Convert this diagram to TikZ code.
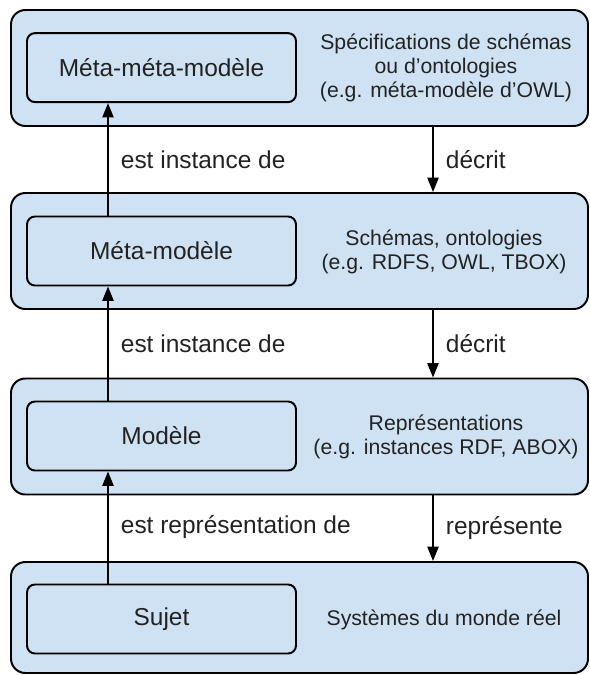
\documentclass[tikz,border=0pt]{standalone}
\usepackage{fontspec}
\setmainfont{Liberation Sans}
\usetikzlibrary{arrows.meta,positioning}
\definecolor{bleu}{HTML}{CFE2F3}
\definecolor{encre}{HTML}{222222}

\begin{document}
\begin{tikzpicture}[>={Triangle[length=0.36cm,width=0.28cm]},text=encre,
  niv/.style={draw,line width=1.4pt,fill=bleu,rounded corners=0.36cm,minimum width=14.425cm,minimum height=2.9cm},
  bte/.style={draw,line width=1.4pt,rounded corners=0.2cm,minimum width=6.725cm,minimum height=1.725cm,font=\fontsize{17.4}{20}\selectfont},
  txt/.style={align=center,font=\fontsize{15.1}{17.1}\selectfont},
  lbl/.style={right=0.3cm,inner sep=0pt,font=\fontsize{17.4}{20}\selectfont}]
  \useasboundingbox (0,0) rectangle (14.75,-16.875);
  % niveaux
  \node[niv] (n1) at (7.4875,-1.7) {};
  \node[niv] (n2) at (7.4875,-6.275) {};
  \node[niv] (n3) at (7.4875,-10.9125) {};
  \node[niv,minimum height=2.775cm] (n4) at (7.4875,-15.4375) {};
  % boites
  \node[bte] (mmm) at (4.0375,-1.69) {Méta-méta-modèle};
  \node[bte] (mm) at (4.0375,-6.275) {Méta-modèle};
  \node[bte] (mod) at (4.0375,-10.9) {Modèle};
  \node[bte] (suj) at (4.0375,-15.475) {Sujet};
  % descriptions
  \node[txt] (d1) at (11.15,-1.69) {Spécifications de schémas\\ou d’ontologies\\(e.g. méta-modèle d’OWL)};
  \node[txt] (d2) at (11.1,-6.3) {Schémas, ontologies\\(e.g. RDFS, OWL, TBOX)};
  \node[txt] (d3) at (11.15,-10.93) {Représentations\\(e.g. instances RDF, ABOX)};
  \node[txt] (d4) at (11.1,-15.5) {Systèmes du monde réel};
  % fleches
  \coordinate (g) at (2.7,0);
  \coordinate (d) at (10.825,0);
  \draw[->,line width=1.3pt] (mm.north -| g) -- node[lbl]{est instance de} (mmm.south -| g);
  \draw[->,line width=1.3pt] (mod.north -| g) -- node[lbl]{est instance de} (mm.south -| g);
  \draw[->,line width=1.3pt] (suj.north -| g) -- node[lbl]{est représentation de} (mod.south -| g);
  \draw[->,line width=1.3pt] (n1.south -| d) -- node[lbl]{décrit} (n2.north -| d);
  \draw[->,line width=1.3pt] (n2.south -| d) -- node[lbl]{décrit} (n3.north -| d);
  \draw[->,line width=1.3pt] (n3.south -| d) -- node[lbl]{représente} (n4.north -| d);
\end{tikzpicture}
\end{document}
